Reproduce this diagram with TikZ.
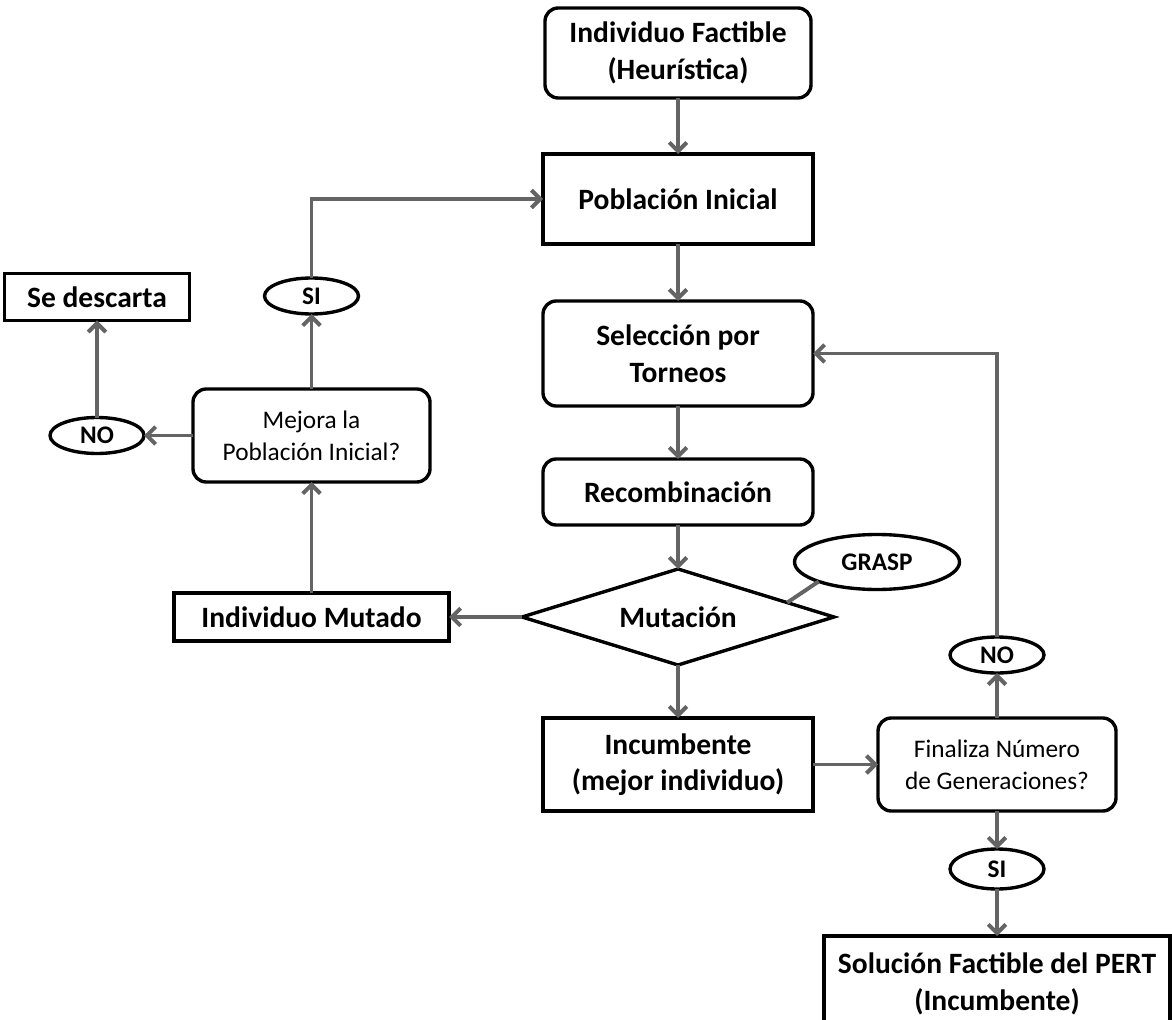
\documentclass[tikz,border=0pt]{standalone}
\usepackage{fontspec}
\setmainfont{Carlito}
\usetikzlibrary{positioning, shapes.geometric, arrows.meta, calc}
\definecolor{linegray}{RGB}{100,100,100}

\begin{document}
\begin{tikzpicture}[
    >={Straight Barb[length=2.2mm, width=4.4mm]},
    node distance=1.4cm and 1.6cm,
    arrow/.style={
        ->,
        draw=linegray,
        line width=2.8pt
    },
    link/.style={
        draw=linegray,
        line width=2.8pt
    },
    box/.style={
        rectangle,
        draw,
        line width=2.4pt,
        outer sep=0pt,
        fill=white,
        align=center,
        inner sep=0pt,
        font=\bfseries\fontsize{21}{26}\selectfont
    },
    rbox/.style={
        box,
        rounded corners=3.3mm
    },
    question/.style={
        rbox,
        font=\fontsize{18}{22.5}\selectfont
    },
    answer/.style={
        ellipse,
        draw,
        line width=2.4pt,
        outer sep=0pt,
        inner sep=0pt,
        minimum width=2.35cm,
        minimum height=0.9cm,
        font=\bfseries\fontsize{18}{22}\selectfont
    },
    decision/.style={
        diamond,
        draw,
        line width=2.4pt,
        outer sep=0pt,
        inner sep=0pt,
        shape aspect=3.25,
        minimum width=7.8cm,
        minimum height=2.4cm,
        font=\bfseries\fontsize{21}{26}\selectfont
    }
]

    \useasboundingbox (0,0) rectangle (29.3,-25.5);
    \clip (0,0) rectangle (29.3,-25.5);

    % Individuo inicial
    \node[rbox, minimum width=6.65cm, minimum height=2.25cm] (ind) at (16.95,-1.325) {Individuo Factible\\(Heurística)};

    % --- Ciclo principal ---

    % Poblacion
    \node[box, below=1.4cm of ind, minimum width=6.75cm, minimum height=2.25cm] (pob) {Población Inicial};
    \draw[arrow] (ind) -- (pob);

    % Seleccion
    \node[rbox, below=1.425cm of pob, minimum width=6.75cm, minimum height=2.625cm] (sel) {Selección por\\Torneos};
    \draw[arrow] (pob) -- (sel);

    % Recombinacion
    \node[rbox, below=1.325cm of sel, minimum width=6.75cm, minimum height=1.65cm] (rec) {Recombinación};
    \draw[arrow] (sel) -- (rec);

    % Mutacion
    \node[decision, below=1.1cm of rec] (mut) {Mutación};
    \draw[arrow] (rec) -- (mut);

    % GRASP
    \node[answer, minimum width=4.125cm, minimum height=1.375cm] (grasp) at (21.925,-14.05) {GRASP};
    \draw[link] (grasp.south west) -- ($(mut.north)!0.7!(mut.east)$);

    % Incumbente
    \node[box, below=1.325cm of mut, minimum width=6.75cm, minimum height=2.325cm] (inc) {Incumbente\\(mejor individuo)};
    \draw[arrow] (mut) -- (inc);

    % --- Rama de la mutacion ---

    % Individuo mutado
    \node[box, left=1.825cm of mut, minimum width=6.875cm, minimum height=1.2cm] (imut) {Individuo Mutado};
    \draw[arrow] (mut) -- (imut);

    % Mejora
    \node[question, above=2.775cm of imut, minimum width=5.925cm, minimum height=2.325cm] (mejora) {Mejora la\\Población Inicial?};
    \draw[arrow] (imut) -- (mejora);

    % SI -> vuelve a la poblacion
    \node[answer, above=1.875cm of mejora] (si1) {SI};
    \draw[arrow] (mejora) -- (si1);
    \draw[arrow] (si1) |- (pob);

    % NO -> se descarta
    \node[answer, left=1.225cm of mejora] (no1) {NO};
    \draw[arrow] (mejora) -- (no1);
    \node[box, above=2.425cm of no1, minimum width=4.625cm, minimum height=1.175cm] (desc) {Se descarta};
    \draw[arrow] (no1) -- (desc);

    % --- Criterio de parada ---

    % Finaliza
    \node[question, right=1.625cm of inc, minimum width=5.95cm, minimum height=2.325cm] (fin) {Finaliza Número\\de Generaciones?};
    \draw[arrow] (inc) -- (fin);

    % NO -> nueva seleccion
    \node[answer, above=1.125cm of fin] (no2) {NO};
    \draw[arrow] (fin) -- (no2);
    \draw[arrow] (no2) |- (sel);

    % SI -> solucion
    \node[answer, below=0.95cm of fin, minimum height=1cm] (si2) {SI};
    \draw[arrow] (fin) -- (si2);
    \node[box, below=1.175cm of si2, minimum width=8.65cm, minimum height=2.4cm] (sol) {Solución Factible del PERT\\(Incumbente)};
    \draw[arrow] (si2) -- (sol);

\end{tikzpicture}
\end{document}
